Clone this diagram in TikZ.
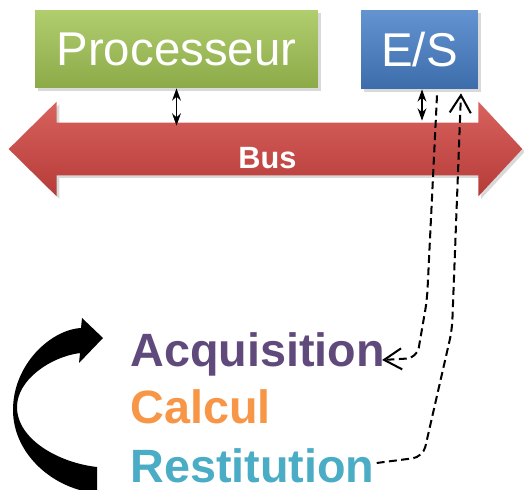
\documentclass[tikz,border=0pt]{standalone}
\usepackage{fontspec}
\setmainfont{Liberation Sans}
\usetikzlibrary{positioning,calc,arrows.meta,shadows,backgrounds}

\definecolor{acqcol}{HTML}{604A7B}
\definecolor{calccol}{HTML}{F79646}
\definecolor{restcol}{HTML}{4BACC6}
\definecolor{greentop}{RGB}{176,206,110}
\definecolor{greenbot}{RGB}{140,170,72}
\definecolor{bluetop}{RGB}{100,147,209}
\definecolor{bluebot}{RGB}{60,109,170}
\definecolor{redtop}{RGB}{217,98,94}
\definecolor{redbot}{RGB}{181,59,55}

\begin{document}
\begin{tikzpicture}[x=0.02cm,y=0.02cm,
	shadowed/.style={drop shadow={opacity=0.3,shadow xshift=1.5pt,shadow yshift=-1.5pt}},
	box/.style={shadowed,rectangle,inner sep=0pt,text=white,font=\fontsize{27}{32}\selectfont},
	phase/.style={anchor=base west,inner sep=0pt,font=\bfseries\fontsize{26.6}{32}\selectfont},
	link/.style={{Stealth[length=7pt,width=5pt]}-{Stealth[length=7pt,width=5pt]},line width=0.8pt},
	flow/.style={line width=1.15pt,dash pattern=on 4.5pt off 2.5pt,rounded corners=6pt,
		-{Straight Barb[length=10pt,width=12pt]}}]
	\useasboundingbox (0,0) rectangle (524,490);
	% units and bus
	\node[box,top color=greentop,bottom color=greenbot,
		minimum width=5.66cm,minimum height=1.56cm] (proc) at (176.5,441) {Processeur};
	\node[box,top color=bluetop,bottom color=bluebot,
		minimum width=2.34cm,minimum height=1.58cm] (es) at (419.5,440.5) {E/S};
	\node[inner sep=0pt,minimum width=8.42cm,minimum height=1.04cm,text height=22pt,text depth=0pt,
		text=white,font=\bfseries\fontsize{17.5}{20}\selectfont] (bus) at (267.5,341) {Bus};
	\begin{scope}[on background layer]
		\shade[shadowed,top color=redtop,bottom color=redbot]
			(bus.north west) -- ++(0,21) -- ($(bus.west)+(-48,0)$) -- ($(bus.south west)+(0,-21)$)
			-- (bus.south west) -- (bus.south east) -- ++(0,-21) -- ($(bus.east)+(44,0)$)
			-- ($(bus.north east)+(0,21)$) -- (bus.north east) -- cycle;
	\end{scope}
	\draw[link] (proc.south) -- ($(proc.south |- bus.north)+(0,-3)$);
	\draw[link] ($(es.south)+(2.5,0)$) -- ($(es.south |- bus.north)+(2.5,2)$);
	% phases
	\node[phase,text=acqcol] (acq) at (130,123) {Acquisition};
	\node[phase,text=calccol,below=1.14cm of acq.base west,anchor=base west] (calc) {Calcul};
	\node[phase,text=restcol,below=1.18cm of calc.base west,anchor=base west] (rest) {Restitution};
	\draw[flow] ($(es.south)+(17.5,-6)$) -- (427,190) -- (417,132) -- ($(acq.base east)+(-3,7)$);
	\draw[flow] ($(rest.base east)+(2,20)$) -- (423,33) -- (452,160) -- ($(es.south)+(41.5,-4)$);
	% cycle arrow
	\fill[black] (97,-3) -- (97,23) .. controls (60,27) and (17,50) .. (17,83)
		.. controls (17,110) and (50,133) .. (80,137) -- (79,127) -- (103,152) -- (82,172) -- (81,162)
		.. controls (50,160) and (13,125) .. (13,80) .. controls (13,35) and (55,0) .. (97,-3) -- cycle;
\end{tikzpicture}
\end{document}
